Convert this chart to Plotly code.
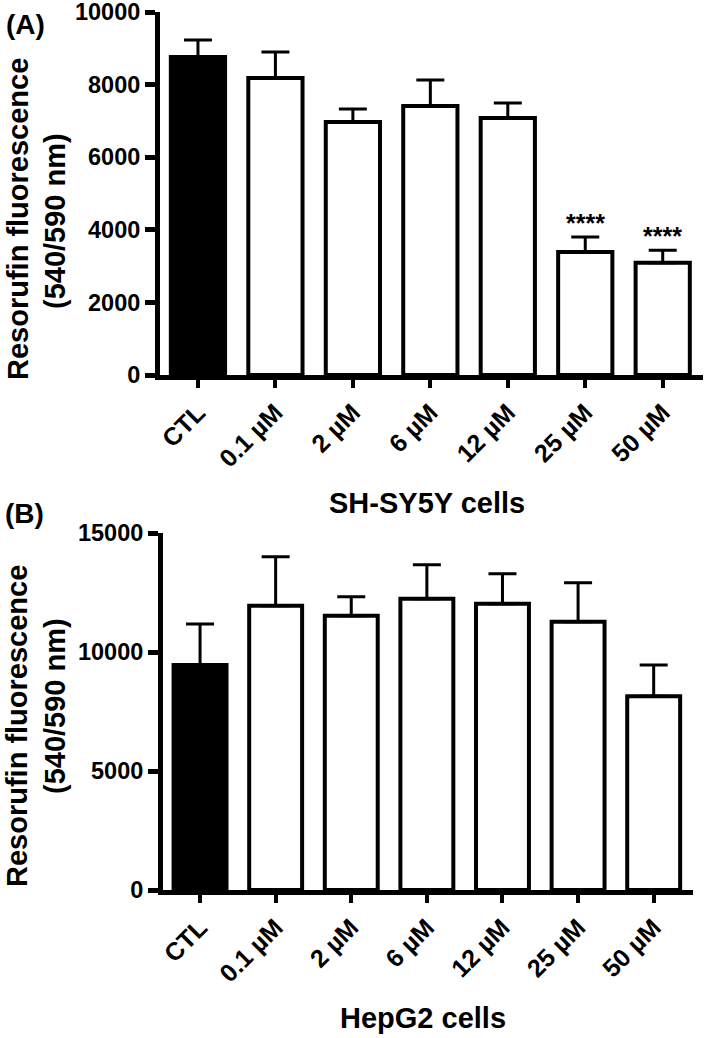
import plotly.graph_objects as go

categories = ["CTL", "0.1 µM", "2 µM", "6 µM", "12 µM", "25 µM", "50 µM"]

shsy5y_mean = [8760, 8180, 6970, 7410, 7080, 3390, 3090]
shsy5y_sem = [470, 720, 360, 720, 410, 410, 350]
shsy5y_sig = ["", "", "", "", "", "****", "****"]
shsy5y_ticks = [0, 2000, 4000, 6000, 8000, 10000]

hepg2_mean = [9450, 11940, 11520, 12240, 12030, 11270, 8140]
hepg2_sem = [1730, 2060, 800, 1430, 1260, 1640, 1310]
hepg2_ticks = [0, 5000, 10000, 15000]

FONT = "Liberation Sans"
W, H = 708, 1038

fills = ["black"] + ["white"] * (len(categories) - 1)

fig = go.Figure()

def add_bars(means, sems, xa, ya):
    fig.add_trace(go.Bar(
        x=categories, y=means, xaxis=xa, yaxis=ya, width=0.7,
        marker=dict(color=fills, line=dict(color="black", width=4)),
        error_y=dict(type="data", symmetric=False, array=sems,
                     arrayminus=[0] * len(sems), color="black",
                     thickness=3, width=14),
        showlegend=False, hoverinfo="skip",
    ))

add_bars(shsy5y_mean, shsy5y_sem, "x", "y")
add_bars(hepg2_mean, hepg2_sem, "x2", "y2")

ytickfont = dict(family=FONT, size=23.5, color="black", weight="bold")
xtickfont = dict(family=FONT, size=25, color="black", weight="bold")

common_x = dict(showline=True, linecolor="black", linewidth=5, ticks="outside",
                ticklen=8, tickwidth=4, tickcolor="black", tickangle=-45,
                tickfont=xtickfont, showgrid=False, zeroline=False,
                range=[-0.49, 6.52], type="category", automargin=False,
                ticklabeloverflow="allow")
common_y = dict(showline=True, linecolor="black", linewidth=5, ticks="outside",
                ticklen=10, tickwidth=5, tickcolor="black", tickfont=ytickfont,
                showgrid=False, zeroline=False, automargin=False,
                ticklabeloverflow="allow")

fig.update_layout(
    width=W, height=H, margin=dict(l=0, r=0, t=0, b=0),
    paper_bgcolor="white", plot_bgcolor="white", bargap=0.3,
    xaxis=dict(domain=[160 / W, 703 / W], anchor="y", **common_x),
    yaxis=dict(domain=[(H - 375) / H, (H - 12) / H], anchor="x",
               range=[0, 10000], tickvals=shsy5y_ticks,
               ticktext=[str(v) for v in shsy5y_ticks], **common_y),
    xaxis2=dict(domain=[163 / W, 693 / W], anchor="y2", **common_x),
    yaxis2=dict(domain=[(H - 890) / H, (H - 533) / H], anchor="x2",
                range=[0, 15000], tickvals=hepg2_ticks,
                ticktext=[str(v) for v in hepg2_ticks], **common_y),
)

title_font = dict(family=FONT, size=29, color="black", weight="bold")
label_font = dict(family=FONT, size=28, color="black", weight="bold")
annos = [
    dict(text="Resorufin fluorescence", x=18, y=219, textangle=-90),
    dict(text="(540/590 nm)", x=55, y=221, textangle=-90),
    dict(text="Resorufin fluorescence", x=17, y=726, textangle=-90),
    dict(text="(540/590 nm)", x=55, y=706, textangle=-90),
    dict(text="SH-SY5Y cells", x=427, y=503),
    dict(text="HepG2 cells", x=423, y=1018),
    dict(text="(A)", x=25, y=25, font=label_font),
    dict(text="(B)", x=24, y=513, font=label_font),
]
for a in annos:
    a["x"] = a["x"] / W
    a["y"] = (H - a["y"]) / H
    fig.add_annotation(xref="paper", yref="paper", showarrow=False,
                       xanchor="center", yanchor="middle",
                       font=a.pop("font", title_font), **a)

for cat, m, s, sig in zip(categories, shsy5y_mean, shsy5y_sem, shsy5y_sig):
    if sig:
        fig.add_annotation(x=cat, y=m + s + 560, xref="x", yref="y", text=sig,
                           showarrow=False, yanchor="middle", yshift=-6,
                           font=dict(family=FONT, size=25, color="black", weight="bold"))

fig.write_html("out.html", config={"displayModeBar": False},
               post_script="document.body.style.margin='0';document.body.style.overflow='hidden';")
